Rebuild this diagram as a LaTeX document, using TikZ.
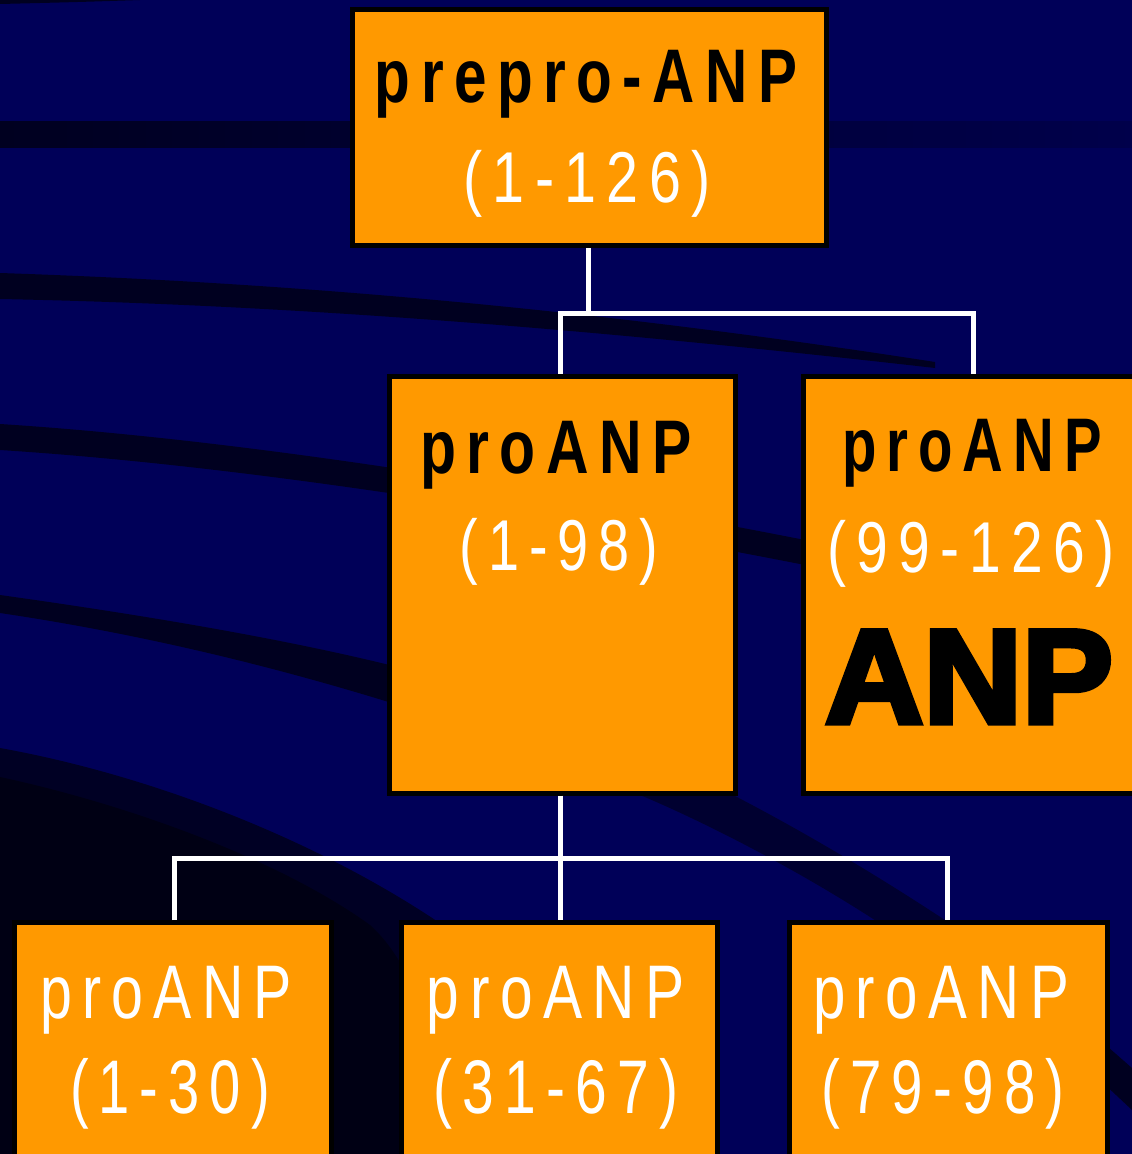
\documentclass[tikz,border=0pt]{standalone}
\usepackage{fontspec}
\usepackage{graphicx}
\setmainfont{Liberation Sans}
\newfontfamily\nrw{Liberation Sans}[FakeStretch=0.78,LetterSpace=14]
\newfontfamily\heavy{Liberation Sans Bold}[FakeBold=4]
\definecolor{bgnavy}{RGB}{0,0,88}
\definecolor{banddark}{RGB}{0,0,32}
\definecolor{bandsoft}{RGB}{0,0,48}
\definecolor{bandmid}{RGB}{0,0,36}
\definecolor{banddeep}{RGB}{0,0,20}
\definecolor{boxorange}{RGB}{255,153,0}
\newcommand{\fitw}[2]{\resizebox{#1}{\height}{#2}}
\begin{document}
\begin{tikzpicture}[x=1pt,y=-1pt,
  box/.style={draw=black, line width=5pt, fill=boxorange, rectangle, inner sep=0pt},
  link/.style={draw=white, line width=5pt},
  lbl/.style={anchor=base, inner sep=0pt, outer sep=0pt},
  blk/.style={lbl, text=black, font=\nrw\bfseries\fontsize{76}{80}\selectfont},
  wht/.style={lbl, text=white, font=\nrw\fontsize{72}{80}\selectfont},
  whtw/.style={lbl, text=white, font=\nrw\fontsize{76}{80}\selectfont},
  big/.style={lbl, text=black, font=\heavy\fontsize{134}{140}\selectfont}]
\useasboundingbox (0,0) rectangle (1132,1154);
\clip (0,0) rectangle (1132,1154);
% background
\fill[bgnavy] (0,0) rectangle (1132,1154);
\fill[banddark] (0,0) -- (140,0) .. controls (80,2) .. (0,4) -- cycle;
\shade[left color=banddark, right color=bgnavy!85!black] (0,121) rectangle (1132,147);
\fill[banddark] (0,273) .. controls (300,283) and (600,310) .. (935,362) -- (935,368) .. controls (600,330) and (300,305) .. (0,299) -- cycle;
\fill[banddark] (0,424) .. controls (250,440) and (550,490) .. (805,540) -- (805,565) .. controls (550,515) and (250,466) .. (0,450) -- cycle;
\fill[banddark] (0,595) .. controls (250,630) and (450,670) .. (560,720) -- (560,760) .. controls (450,720) and (250,650) .. (0,613) -- cycle;
\fill[bandsoft] (500,700) .. controls (600,740) and (700,790) .. (733,795) .. controls (820,840) and (900,890) .. (960,930) -- (890,930) .. controls (800,870) and (700,820) .. (640,795) .. controls (600,780) and (540,760) .. (500,740) -- cycle;
\fill[bandmid] (0,748) .. controls (150,775) and (320,840) .. (450,930) .. controls (520,990) and (560,1060) .. (600,1154) -- (0,1154) -- cycle;
\fill[banddeep] (0,777) .. controls (130,805) and (280,860) .. (370,925) .. controls (420,970) and (440,1060) .. (460,1154) -- (0,1154) -- cycle;
\fill[banddark] (1100,1040) -- (1132,1068) -- (1132,1110) -- (1100,1080) -- cycle;
% boxes
\node[box, minimum width=474pt, minimum height=236pt] (top) at (589.5,127.5) {};
\node[box, minimum width=346pt, minimum height=417pt] (ml) at (562.5,584.5) {};
\node[box, minimum width=336pt, minimum height=417pt] (mr) at (971.5,584.5) {};
\node[box, minimum width=317pt, minimum height=245pt] (bl) at (173,1045) {};
\node[box, minimum width=316pt, minimum height=245pt] (bm) at (559.5,1045) {};
\node[box, minimum width=318pt, minimum height=245pt] (br) at (948.5,1045) {};
% labels
\node[blk] (t1) at (586,102) {\fitw{422pt}{prepro-ANP}};
\node[wht] (t2) at (587,202) {\fitw{247pt}{(1-126)}};
\node[blk] (m1) at (556,473) {\fitw{272pt}{proANP}};
\node[wht] (m2) at (559,570) {\fitw{199pt}{(1-98)}};
\node[blk] (r1) at (972,471) {\fitw{260pt}{proANP}};
\node[wht] (r2) at (971,572) {\fitw{287pt}{(99-126)}};
\node[big] (r3) at (969,723) {\fitw{288pt}{ANP}};
\node[whtw] (b1) at (166,1018) {\fitw{252pt}{proANP}};
\node[whtw] (b2) at (170,1113) {\fitw{200pt}{(1-30)}};
\node[whtw] (c1) at (556,1018) {\fitw{258pt}{proANP}};
\node[whtw] (c2) at (556,1113) {\fitw{245pt}{(31-67)}};
\node[whtw] (d1) at (941,1018) {\fitw{256pt}{proANP}};
\node[whtw] (d2) at (943,1113) {\fitw{243pt}{(79-98)}};
% connectors
\coordinate (j1) at (588,313);
\coordinate (j1l) at (560,313);
\coordinate (j1r) at (973,313);
\coordinate (j2) at (560,858);
\coordinate (j2l) at (174,858);
\coordinate (j2r) at (947,858);
\draw[link] (top.south -| j1) -- (j1);
\draw[link] (ml.north -| j1l) -- (j1l) -- (j1r) -- (mr.north -| j1r);
\draw[link] (ml.south -| j2) -- (bm.north -| j2);
\draw[link] (bl.north -| j2l) -- (j2l) -- (j2r) -- (br.north -| j2r);
\end{tikzpicture}
\end{document}
